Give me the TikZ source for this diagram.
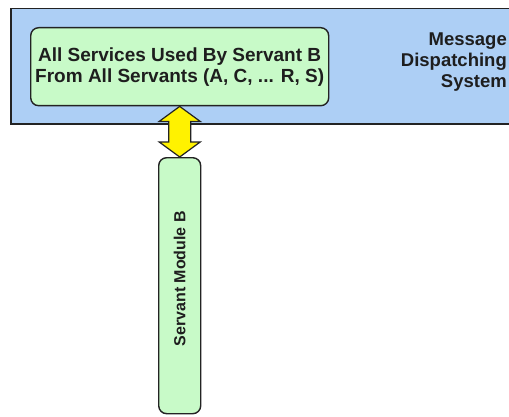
\documentclass[tikz,border=0pt]{standalone}
\usepackage{fontspec}
\setmainfont{Liberation Sans}
\usetikzlibrary{calc}
\definecolor{bluebg}{RGB}{173,207,245}
\definecolor{greenfill}{RGB}{200,250,200}
\definecolor{edgecol}{RGB}{35,35,35}
\definecolor{txt}{RGB}{30,30,30}
\begin{document}
\begin{tikzpicture}[x=1pt,y=1pt,
  panel/.style={draw=edgecol, fill=bluebg, line width=1.5pt, inner sep=0pt, anchor=north west},
  greenbox/.style={draw=edgecol, fill=greenfill, line width=1.4pt, rounded corners=8pt, inner sep=0pt, anchor=north west},
  label/.style={text=txt, font=\bfseries\fontsize{18.5}{21}\selectfont, align=center, inner sep=0pt},
  dblarrow/.style={draw=edgecol, fill=yellow, line width=1.2pt, line join=miter}
]
\useasboundingbox (0,0) rectangle (509,416);
\fill[white] (0,0) rectangle (509,416);
\node[panel, minimum width=515pt, minimum height=115pt] (mds) at (10,408) {};
\node[label, anchor=east, align=right] (mdslabel) at (507,354) {Message\\Dispatching\\System};
\node[greenbox, minimum width=298pt, minimum height=78pt] (gb) at (30,389) {};
\node[label, font=\bfseries\fontsize{19}{21}\selectfont] (gbtext) at (gb.center) {All Services Used By Servant B\\From All Servants (A, C, ... R, S)};
\node[greenbox, minimum width=42pt, minimum height=256pt] (sm) at (158,259) {};
\node[label, font=\bfseries\fontsize{16}{19}\selectfont, rotate=90] (smtext) at ($(sm.center)+(0,7)$) {Servant Module B};
\draw[dblarrow] (gb.south) -- ++(20.5,-15) -- ++(-9.5,0) -- ($(sm.north)+(11,15)$) -- ++(9.5,0) -- (sm.north) -- ++(-20.5,15) -- ++(9.5,0) -- ($(gb.south)+(-11,-15)$) -- ++(-9.5,0) -- cycle;
\end{tikzpicture}
\end{document}
